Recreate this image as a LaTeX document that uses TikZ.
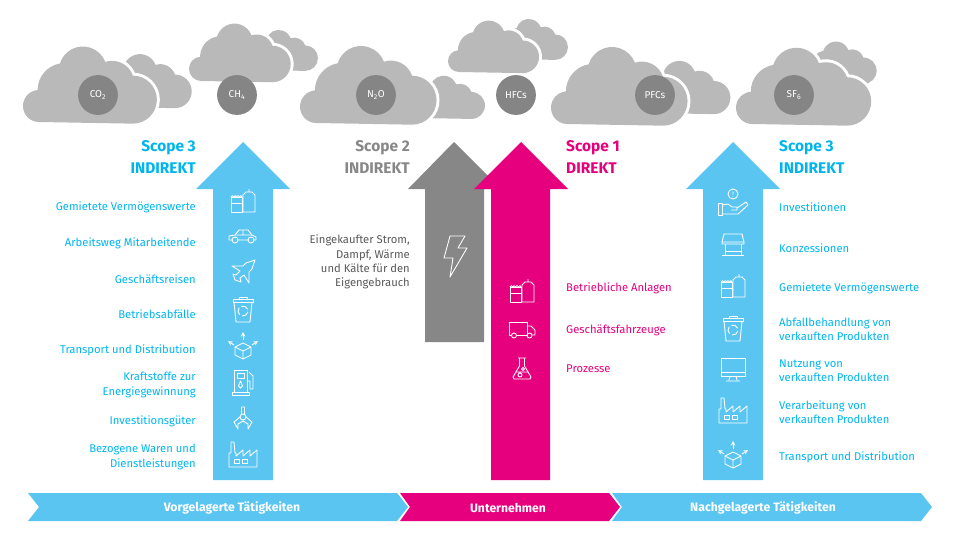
\documentclass[tikz,border=0pt]{standalone}
\usepackage{fontspec}
\setmainfont{Fira Sans}
\tikzset{>=stealth}
\definecolor{sblue}{HTML}{5BC5F2}
\definecolor{stext}{HTML}{00B5EE}
\definecolor{smag}{HTML}{E6007E}
\definecolor{sgray}{HTML}{878787}
\definecolor{scloud}{HTML}{B9B9B9}
\definecolor{sdot}{HTML}{858585}
\tikzset{
  gasdot/.style={circle,fill=sdot,minimum size=34pt,inner sep=0pt,text=white,font=\fontsize{8.5}{10}\selectfont},
  lbl/.style={font=\fontsize{9.6}{12.2}\selectfont,inner sep=0pt},
  lblleft/.style={lbl,anchor=east,align=right,text=stext},
  lblright/.style={lbl,anchor=west,align=left,text=stext},
  head/.style={font=\fontsize{13.2}{17}\bfseries\selectfont,inner sep=0pt},
  band/.style={text=white,inner sep=0pt,font=\fontsize{10.4}{12}\bfseries\selectfont},
  iconline/.style={draw=white,line width=0.75pt,line join=round},
  pics/cloud/.style={code={
    \path[fill=scloud,preaction={draw=white,line width=5pt}] (16,0)
      arc[start angle=90,end angle=265,radius=16]
      arc[start angle=180,end angle=260,radius=27]
      arc[start angle=197,end angle=339,radius=24]
      arc[start angle=252,end angle=341,radius=22]
      arc[start angle=270,end angle=450,radius=24] -- cycle;
  }},
  pics/tank/.style={code={
    \draw[iconline] (-12,-4) rectangle (-1,11) (-12,2) -- (-1,2);
    \draw[iconline] (-12,-4) arc[start angle=180,end angle=360,radius=1.4] arc[start angle=180,end angle=360,radius=1.4] arc[start angle=180,end angle=360,radius=1.4] arc[start angle=180,end angle=360,radius=1.4];
    \draw[iconline] (0,11) -- (0,-6) -- (3,-9) -- (9,-9) -- (12,-6) -- (12,11) -- cycle (6,-9) -- (6,-12);
  }},
  pics/car/.style={code={
    \draw[iconline] (-11,4) -- (-14,4) -- (-14,0) -- (-8,-1) -- (-4,-6) -- (5,-6) -- (9,-1) -- (13,1) -- (13,4) -- (11,4) (-5,4) -- (5,4);
    \draw[iconline] (-8,-1) -- (9,-1) (0,-6) -- (0,-1) (-8,4) circle (3) (8,4) circle (3);
  }},
  pics/plane/.style={code={
    \draw[iconline] (12,-12) -- (3,-9) -- (0,-6) -- (-11,-6) -- (-3,-1) -- (-7,3) -- (-10,2) -- (-8,8) -- (-2,10) -- (-3,6) -- (1,3) -- (6,11) -- (6,0) -- (9,-3) -- cycle;
  }},
  pics/bin/.style={code={
    \draw[iconline] (-10,-10) rectangle (10,-7) (-4,-10) -- (-4,-12) -- (4,-12) -- (4,-10);
    \draw[iconline] (-9,-7) -- (-7,13) -- (7,13) -- (9,-7);
    \foreach \a in {10,130,250}
    \draw[iconline] (0,2) ++(\a:5) arc[start angle=\a,end angle=\a+90,radius=5];
  }},
  pics/parcel/.style={code={
    \draw[iconline] (0,-3) -- (8,1) -- (8,9) -- (0,13) -- (-8,9) -- (-8,1) -- cycle (-8,1) -- (0,5) -- (8,1) (0,5) -- (0,13);
    \draw[iconline,->] (0,-6) -- (0,-14);
    \draw[iconline,->] (-9,-1) -- (-15,-5);
    \draw[iconline,->] (9,-1) -- (15,-5);
  }},
  pics/pump/.style={code={
    \draw[iconline] (-9,10) -- (-9,-12) -- (4,-12) -- (4,10) (-6,-9) rectangle (1,-4) (-11,10) rectangle (6,13);
    \draw[iconline] (-2.5,-1) -- (-4.5,4) -- (-2.5,6) -- (-0.5,4) -- cycle;
    \draw[iconline] (4,-1) -- (7,-1) -- (7,7) -- (10,7) -- (10,-6) -- (6,-10);
  }},
  pics/claw/.style={code={
    \draw[iconline] (-1.5,-13) rectangle (1.5,-6) (0,-3) circle (3);
    \draw[iconline] (-3,-3) -- (-9,2) -- (-5,9) -- (-5,4) -- (0,1) -- (5,4) -- (5,9) -- (9,2) -- (3,-3);
  }},
  pics/factory/.style={code={
    \draw[iconline] (-14,12) -- (-14,-2) -- (-12,-2) -- (-12,-13) -- (-9,-13) -- (-8,-2) -- (-7,-2) -- (-7,1) -- (0,-5) -- (0,1) -- (7,-5) -- (7,1) -- (14,-5) -- (14,12) -- cycle;
    \draw[iconline] (-9,4) rectangle (-4,8) (-1,4) rectangle (4,8);
  }},
  pics/hand/.style={code={
    \draw[iconline] (0,-8) circle (5) (0,-10.5) -- (0,-7.5) (0,-6) -- (0,-5.5);
    \draw[iconline] (-15,1) rectangle (-11,13);
    \draw[iconline] (-11,3) -- (-5,2) -- (-1,5) -- (4,5) -- (4,8) -- (-2,8) (4,6) -- (13,0) -- (15,3) -- (5,12) -- (-11,12);
  }},
  pics/shop/.style={code={
    \draw[iconline] (-9,-11) -- (9,-11) -- (11,-3) -- (11,-1) -- (-11,-1) -- (-11,-3) -- cycle (-11,-3) -- (11,-3);
    \draw[iconline] (-8,-1) -- (-8,10) -- (8,10) -- (8,-1) (-8,6) -- (8,6) (-11,10) -- (11,10);
  }},
  pics/screen/.style={code={
    \draw[iconline] (-12,-11) rectangle (12,7) (-12,3) -- (12,3);
    \draw[iconline] (-3,7) -- (-4,11) (3,7) -- (4,11) (-7,12) -- (7,12);
  }},
  pics/truck/.style={code={
    \draw[iconline] (-10.5,6) -- (-13,6) -- (-13,-7) -- (5,-7) -- (5,6) -- (-5.5,6);
    \draw[iconline] (5,-3) -- (9,-3) -- (13,1) -- (13,6) -- (10,6) (5,6) -- (5,6);
    \draw[iconline] (-8,6.5) circle (2.5) (7.5,6.5) circle (2.5);
  }},
  pics/flask/.style={code={
    \draw[iconline] (-4,-11) -- (4,-11) (-2.5,-11) -- (-2.5,-3) -- (-9,8) -- (-8,10) -- (8,10) -- (9,8) -- (2.5,-3) -- (2.5,-11);
    \draw[iconline] (-6,3) -- (6,3) (-2,6) circle (2) (1,0) circle (1.5);
  }},
  pics/bolt/.style={code={
    \draw[iconline] (-6,-21) -- (9,-21) -- (2,-9) -- (11,-9) -- (-6,20) -- (-3,1) -- (-12,1) -- cycle;
  }}
}

\begin{document}
\begin{tikzpicture}[x=0.3mm,y=-0.3mm]
    \useasboundingbox (0,0) rectangle (959,548);
    % clouds, back one first
    \foreach \x/\y/\s in {98/107/.7,247/70/.53,410/118/.56,497/59/.53,638/113/.69,803/83/.55}
    \pic[scale=\s] at (\x,\y) {cloud};
    \foreach \x/\y/\s in {23/122/1,189/81/.76,300/123/1.02,448/72/.68,551/124/1.02,736/124/1.01}
    \pic[scale=\s] at (\x,\y) {cloud};
    \node[gasdot] (co2) at (98,95) {CO\textsubscript{2}};
    \node[gasdot] (ch4) at (237,95) {CH\textsubscript{4}};
    \node[gasdot] (n2o) at (376,95) {N\textsubscript{2}O};
    \node[gasdot] (hfc) at (516,95) {HFCs};
    \node[gasdot] (pfc) at (655,95) {PFCs};
    \node[gasdot] (sf6) at (794,95) {SF\textsubscript{6}};
    % scope arrows
    \fill[sblue] (243,142) -- (290,189) -- (273,189) -- (273,480) -- (213,480) -- (213,189) -- (196,189) -- cycle;
    \fill[sgray] (454,142) -- (501,189) -- (484,189) -- (484,342) -- (425,342) -- (425,189) -- (408,189) -- cycle;
    \fill[smag] (521,142) -- (568,189) -- (550,189) -- (550,480) -- (491,480) -- (491,189) -- (474,189) -- cycle;
    \fill[sblue] (733,142) -- (780,189) -- (763,189) -- (763,480) -- (703,480) -- (703,189) -- (686,189) -- cycle;
    % icons
    \foreach \ic/\y in {tank/201,car/236,plane/272,bin/309,parcel/346,pump/382,claw/420,factory/455}
    \pic at (243,\y) {\ic};
    \foreach \ic/\y in {hand/202,shop/245,tank/286,bin/328,screen/369,factory/411,parcel/455}
    \pic at (733,\y) {\ic};
    \foreach \ic/\y in {tank/291,truck/329,flask/369}
    \pic at (522,\y) {\ic};
    \pic at (456,257) {bolt};
    % headings
    \node[head,anchor=east,text=stext] (scopeA) at (196,148) {Scope 3};
    \node[head,anchor=east,text=stext] (indA) at (196,168) {INDIREKT};
    \node[head,anchor=east,text=sgray] (scopeB) at (410,148) {Scope 2};
    \node[head,anchor=east,text=sgray] (indB) at (410,168) {INDIREKT};
    \node[head,anchor=west,text=smag] (scopeC) at (566,148) {Scope 1};
    \node[head,anchor=west,text=smag] (dirC) at (566,168) {DIREKT};
    \node[head,anchor=west,text=stext] (scopeD) at (779,148) {Scope 3};
    \node[head,anchor=west,text=stext] (indD) at (779,168) {INDIREKT};
    % labels
    \foreach \n/\y/\t in {a/207/Gemietete Vermögenswerte,b/243/Arbeitsweg Mitarbeitende,c/279/Geschäftsreisen,d/314/Betriebsabfälle,e/350/Transport und Distribution,f/385/{Kraftstoffe zur\\Energiegewinnung},g/421/Investitionsgüter,h/457/{Bezogene Waren und\\Dienstleistungen}}
    \node[lblleft] (up\n) at (196,\y) {\t};
    \foreach \n/\y/\t in {a/207/Investitionen,b/248/Konzessionen,c/288/Gemietete Vermögenswerte,d/329/{Abfallbehandlung von\\verkauften Produkten},e/371/{Nutzung von\\verkauften Produkten},f/412/{Verarbeitung von\\verkauften Produkten},g/457/Transport und Distribution}
    \node[lblright] (down\n) at (779,\y) {\t};
    \foreach \n/\y/\t in {a/288/Betriebliche Anlagen,b/330/Geschäftsfahrzeuge,c/369/Prozesse}
    \node[lblright,text=smag] (own\n) at (566,\y) {\t};
    \node[lblleft,text=black!65] (energy) at (410,262) {Eingekaufter Strom,\\Dampf, Wärme\\und Kälte für den\\Eigengebrauch};
    % bottom band
    \fill[sblue] (28,493) -- (397,493) -- (408,507) -- (397,521) -- (28,521) -- (39,507) -- cycle;
    \fill[smag] (400,493) -- (609,493) -- (620,507) -- (609,521) -- (400,521) -- (410,507) -- cycle;
    \fill[sblue] (612,493) -- (921,493) -- (932,507) -- (921,521) -- (612,521) -- (622,507) -- cycle;
    \node[band] (before) at (232,508) {Vorgelagerte Tätigkeiten};
    \node[band] (firm) at (508,508) {Unternehmen};
    \node[band] (after) at (763,508) {Nachgelagerte Tätigkeiten};
\end{tikzpicture}
\end{document}
